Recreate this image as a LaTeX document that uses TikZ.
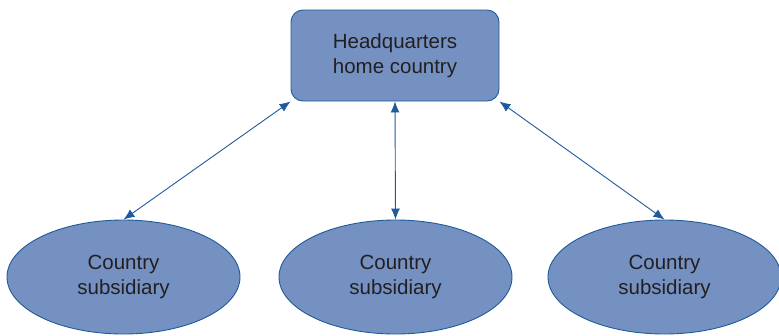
\documentclass[tikz,border=0pt]{standalone}
\usepackage{fontspec}
\setmainfont{Liberation Sans}
\usetikzlibrary{
    shapes.geometric,
    arrows.meta
}
\definecolor{boxfill}{HTML}{7591C2}
\definecolor{boxline}{HTML}{1F5B9C}
\definecolor{labeltext}{HTML}{231F20}
\tikzset {
    hq box/.style = {
        rectangle, rounded corners = 12pt, draw = boxline, fill = boxfill,
        line width = 0.9pt, minimum width = 208pt, minimum height = 91pt,
        align = center, text = labeltext,
        font = \fontsize{20.5}{25}\selectfont
    },
    sub ellipse/.style = {
        ellipse, draw = boxline, fill = boxfill, line width = 0.9pt,
        minimum width = 233pt, minimum height = 114pt, inner sep = 0pt,
        align = center, text = labeltext,
        font = \fontsize{20.5}{25}\selectfont
    },
    link/.style = {
        draw = boxline, line width = 0.9pt,
        arrows = {Latex[length = 11pt, width = 9pt]-Latex[length = 11pt, width = 9pt]}
    }
}

\begin{document}
\begin{tikzpicture}[x = 1pt, y = -1pt]
    \useasboundingbox (0, 0) rectangle (779, 335);
    \node (hq) [hq box] at (395, 55.5) {Headquarters\\home country};
    \node (subl) [sub ellipse] at (123.5, 277) {Country\\subsidiary};
    \node (subm) [sub ellipse] at (395.5, 277) {Country\\subsidiary};
    \node (subr) [sub ellipse] at (664.5, 277) {Country\\subsidiary};
    %
    \draw [link] (hq.south west) -- (subl.north);
    \draw [link] (hq.south) -- (subm.north);
    \draw [link] (hq.south east) -- (subr.north);
\end{tikzpicture}
\end{document}
